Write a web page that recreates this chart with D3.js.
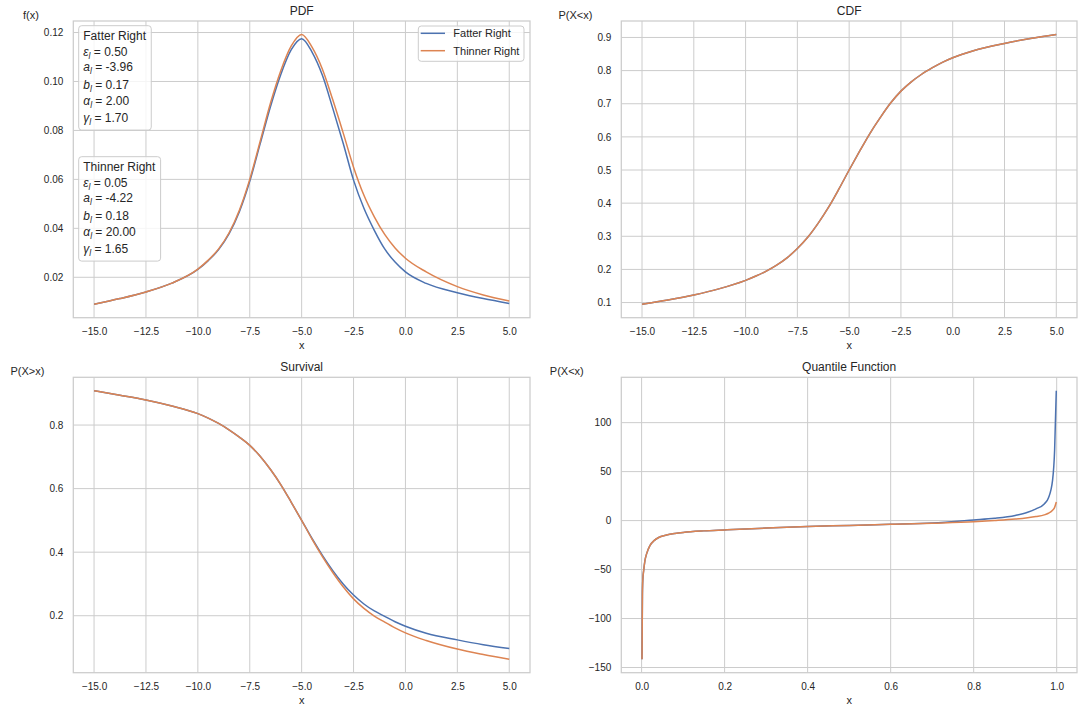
<!DOCTYPE html>
<html>
<head>
<meta charset="utf-8">
<script src="https://cdn.jsdelivr.net/npm/d3@7"></script>
<style>
    body { margin: 0; background: #ffffff; }
    svg { font-family: "Liberation Sans", Arial, sans-serif; }
</style>
</head>
<body>
<script>

//series names and colours
var seriesNames = ["Fatter Right", "Thinner Right"];
var seriesColors = ["#4c72b0", "#dd8452"];

//PDF values
var pdfX = [-15, -13.75, -12.5, -11.25, -10, -9.5, -9, -8.5, -8, -7.5, -7, -6.5, -6, -5.5, -5,
            -4.5, -4, -3.5, -3, -2.5, -2, -1.5, -1, -0.5, 0, 1, 2.5, 3.75, 5];
var pdfFatter = [0.0090, 0.0113, 0.0140, 0.0176, 0.0232, 0.0268, 0.0313, 0.0377, 0.0468, 0.0592,
                 0.0745, 0.0898, 0.1030, 0.1130, 0.1175, 0.1120, 0.1025, 0.0890, 0.0748, 0.0597,
                 0.0482, 0.0392, 0.0316, 0.0262, 0.0222, 0.0175, 0.0137, 0.0113, 0.0093];
var pdfThinner = [0.0090, 0.0113, 0.0140, 0.0176, 0.0233, 0.0270, 0.0316, 0.0381, 0.0474, 0.0600,
                  0.0755, 0.0912, 0.1045, 0.1145, 0.1192, 0.1140, 0.1050, 0.0925, 0.0790, 0.0650,
                  0.0535, 0.0447, 0.0375, 0.0320, 0.0278, 0.0222, 0.0162, 0.0128, 0.0103];

//CDF values
var cdfX = [-15, -13.75, -12.5, -11.25, -10, -9.5, -9, -8.5, -8, -7.5, -7, -6.5, -6, -5.5, -5,
            -4.5, -4, -3.5, -3, -2.5, -2, -1.5, -1, -0.5, 0, 1, 2.5, 3.75, 5];
var cdfFatter = [0.095, 0.108, 0.123, 0.142, 0.167, 0.180, 0.195, 0.213, 0.235, 0.263, 0.297, 0.339, 0.387, 0.442, 0.500,
                 0.556, 0.610, 0.658, 0.702, 0.738, 0.766, 0.789, 0.808, 0.825, 0.839, 0.860, 0.882, 0.897, 0.909];
var cdfThinner = [0.095, 0.108, 0.123, 0.142, 0.167, 0.180, 0.195, 0.213, 0.235, 0.263, 0.297, 0.339, 0.387, 0.442, 0.500,
                  0.556, 0.610, 0.658, 0.702, 0.738, 0.766, 0.789, 0.808, 0.825, 0.839, 0.860, 0.882, 0.897, 0.909];

//survival values
var survX = [-15, -13.75, -12.5, -11.25, -10, -9.5, -9, -8.5, -8, -7.5, -7, -6.5, -6, -5.5, -5,
             -4.5, -4, -3.5, -3, -2.5, -2, -1.5, -1, -0.5, 0, 1, 2.5, 3.75, 5];
var survFatter = [0.908, 0.894, 0.879, 0.860, 0.836, 0.822, 0.805, 0.785, 0.762, 0.736, 0.702, 0.660, 0.612, 0.557, 0.500,
                  0.443, 0.390, 0.342, 0.300, 0.265, 0.237, 0.215, 0.198, 0.181, 0.167, 0.145, 0.124, 0.109, 0.097];
var survThinner = [0.908, 0.894, 0.879, 0.860, 0.836, 0.822, 0.805, 0.785, 0.762, 0.736, 0.702, 0.660, 0.612, 0.557, 0.500,
                   0.441, 0.386, 0.336, 0.291, 0.253, 0.223, 0.199, 0.180, 0.162, 0.146, 0.122, 0.095, 0.078, 0.063];

//quantile function values
var qP = [0.001, 0.002, 0.003, 0.005, 0.008, 0.012, 0.02, 0.03, 0.04, 0.06, 0.08, 0.1, 0.15, 0.2,
          0.3, 0.4, 0.5, 0.6, 0.7, 0.8, 0.85, 0.9, 0.93, 0.95, 0.97, 0.98, 0.99, 0.995, 0.999];
var qFatter = [-141.6, -75, -60, -51, -41, -34, -25.5, -20.5, -17.5, -14.8, -13.2, -12.1, -10.5, -9.5,
               -7.6, -6.0, -4.9, -3.8, -2.4, 0.7, 2.4, 5.3, 8.5, 12, 17, 23, 41, 72, 132.6];
var qThinner = [-141.6, -75, -60, -51, -41, -34, -25.5, -20.5, -17.5, -14.8, -13.2, -12.1, -10.5, -9.5,
                -7.6, -6.0, -4.9, -3.8, -2.7, -1.3, 0.0, 1.6, 3.0, 4.2, 5.8, 7.5, 10.5, 13.5, 19.0];

//tick labels
var xTicks = [-15, -12.5, -10, -7.5, -5, -2.5, 0, 2.5, 5];
var pdfTicks = [0.02, 0.04, 0.06, 0.08, 0.10, 0.12];
var cdfTicks = [0.1, 0.2, 0.3, 0.4, 0.5, 0.6, 0.7, 0.8, 0.9];
var survTicks = [0.2, 0.4, 0.6, 0.8];
var qXTicks = [0.0, 0.2, 0.4, 0.6, 0.8, 1.0];
var qYTicks = [-150, -100, -50, 0, 50, 100];

//annotation boxes
var paramSymbols = ["ε", "a", "b", "α", "γ"];
var fatterParams = ["0.50", "-3.96", "0.17", "2.00", "1.70"];
var thinnerParams = ["0.05", "-4.22", "0.18", "20.00", "1.65"];

window.onload = setChart;

function setChart(){

    var width = 1084,
        height = 714;

    var svg = d3.select("body")
        .append("svg")
        .attr("width", width)
        .attr("height", height);

    var panels = [
        {left: 73.3, top: 21, w: 456.7, h: 296.7, title: "PDF", ylabel: "f(x)",
         xs: pdfX, ys: [pdfFatter, pdfThinner], xTicks: xTicks, yTicks: pdfTicks, xFmt: ".1f", yFmt: ".2f"},
        {left: 621.3, top: 21, w: 455.7, h: 296.7, title: "CDF", ylabel: "P(X<x)",
         xs: cdfX, ys: [cdfFatter, cdfThinner], xTicks: xTicks, yTicks: cdfTicks, xFmt: ".1f", yFmt: ".1f"},
        {left: 73.3, top: 377.3, w: 456.7, h: 295.4, title: "Survival", ylabel: "P(X>x)",
         xs: survX, ys: [survFatter, survThinner], xTicks: xTicks, yTicks: survTicks, xFmt: ".1f", yFmt: ".1f"},
        {left: 621.3, top: 377.3, w: 455.7, h: 295.4, title: "Quantile Function", ylabel: "P(X<x)",
         xs: qP, ys: [qFatter, qThinner], xTicks: qXTicks, yTicks: qYTicks, xFmt: ".1f", yFmt: "d"}
    ];

    var pdfG = null;
    panels.forEach(function(p, i){
        var g = drawPanel(svg, p);
        if (i == 0) pdfG = g;
    });

    //legend on the PDF panel
    var legend = pdfG.append("g")
        .attr("transform", "translate(" + (panels[0].w - 6 - 105.7) + ",5)");
    legend.append("rect")
        .attr("width", 105.7)
        .attr("height", 35.3)
        .attr("rx", 3)
        .attr("fill", "#ffffff")
        .attr("fill-opacity", 0.8)
        .attr("stroke", "#cccccc")
        .attr("stroke-width", 1);
    seriesNames.forEach(function(name, i){
        legend.append("line")
            .attr("x1", 2.4).attr("x2", 26.7)
            .attr("y1", 7.3 + i * 17.4).attr("y2", 7.3 + i * 17.4)
            .attr("stroke", seriesColors[i])
            .attr("stroke-width", 1.5);
        legend.append("text")
            .attr("x", 35)
            .attr("y", 11.3 + i * 17.4)
            .attr("font-size", 11)
            .attr("fill", "#262626")
            .text(name);
    });

    //parameter boxes
    addParamBox(pdfG, 5.4, 4.7, seriesNames[0], fatterParams);
    addParamBox(pdfG, 5.4, 135.7, seriesNames[1], thinnerParams);
}

function drawPanel(svg, p){
    var g = svg.append("g")
        .attr("transform", "translate(" + p.left + "," + p.top + ")");

    //matplotlib style 5% margins
    var xExt = d3.extent(p.xs),
        xPad = (xExt[1] - xExt[0]) * 0.05;
    var yExt = d3.extent(p.ys[0].concat(p.ys[1])),
        yPad = (yExt[1] - yExt[0]) * 0.05;

    var x = d3.scaleLinear()
        .domain([xExt[0] - xPad, xExt[1] + xPad])
        .range([0, p.w]);
    var y = d3.scaleLinear()
        .domain([yExt[0] - yPad, yExt[1] + yPad])
        .range([p.h, 0]);

    //grid
    g.selectAll(".vgrid")
        .data(p.xTicks)
        .enter()
        .append("line")
        .attr("x1", function(d){ return x(d); })
        .attr("x2", function(d){ return x(d); })
        .attr("y1", 0).attr("y2", p.h)
        .attr("stroke", "#cccccc")
        .attr("stroke-width", 1);
    g.selectAll(".hgrid")
        .data(p.yTicks)
        .enter()
        .append("line")
        .attr("y1", function(d){ return y(d); })
        .attr("y2", function(d){ return y(d); })
        .attr("x1", 0).attr("x2", p.w)
        .attr("stroke", "#cccccc")
        .attr("stroke-width", 1);

    //curves
    p.ys.forEach(function(vals, k){
        var line = d3.line()
            .x(function(d, i){ return x(p.xs[i]); })
            .y(function(d){ return y(d); })
            .curve(d3.curveMonotoneX);
        g.append("path")
            .datum(vals)
            .attr("d", line)
            .attr("fill", "none")
            .attr("stroke", seriesColors[k])
            .attr("stroke-width", 1.5);
    });

    //frame
    g.append("rect")
        .attr("width", p.w)
        .attr("height", p.h)
        .attr("fill", "none")
        .attr("stroke", "#cccccc")
        .attr("stroke-width", 1.25);

    //axes
    var xAxis = g.append("g")
        .attr("transform", "translate(0," + p.h + ")")
        .call(d3.axisBottom(x)
            .tickValues(p.xTicks)
            .tickFormat(d3.format(p.xFmt))
            .tickSize(0)
            .tickPadding(10));
    var yAxis = g.append("g")
        .call(d3.axisLeft(y)
            .tickValues(p.yTicks)
            .tickFormat(d3.format(p.yFmt))
            .tickSize(0)
            .tickPadding(10));
    [xAxis, yAxis].forEach(function(a){
        a.select(".domain").remove();
        a.selectAll("text")
            .attr("font-size", 10)
            .attr("font-family", "Liberation Sans, Arial, sans-serif")
            .attr("fill", "#262626");
    });

    //title and labels
    g.append("text")
        .attr("x", p.w / 2)
        .attr("y", -6)
        .attr("text-anchor", "middle")
        .attr("font-size", 12)
        .attr("fill", "#262626")
        .text(p.title);
    g.append("text")
        .attr("x", p.w / 2)
        .attr("y", p.h + 31)
        .attr("text-anchor", "middle")
        .attr("font-size", 11)
        .attr("fill", "#262626")
        .text("x");

    var bb = yAxis.node().getBBox();
    g.append("text")
        .attr("x", bb.x - 5)
        .attr("y", -2.5)
        .attr("text-anchor", "end")
        .attr("font-size", 11)
        .attr("fill", "#262626")
        .text(p.ylabel);

    return g;
}

function addParamBox(g, bx, by, name, values){
    var box = g.append("g")
        .attr("transform", "translate(" + bx + "," + by + ")");
    var rect = box.append("rect")
        .attr("rx", 3)
        .attr("fill", "#ffffff")
        .attr("fill-opacity", 0.8)
        .attr("stroke", "#cccccc")
        .attr("stroke-width", 1);

    var baselines = [14.5, 30, 45.5, 63, 79.5, 96];
    var maxW = 0;

    var t0 = box.append("text")
        .attr("x", 4.6)
        .attr("y", baselines[0])
        .attr("font-size", 12)
        .attr("fill", "#262626")
        .text(name);
    maxW = Math.max(maxW, t0.node().getBBox().width);

    paramSymbols.forEach(function(sym, i){
        var t = box.append("text")
            .attr("x", 4.6)
            .attr("y", baselines[i + 1])
            .attr("font-size", 12)
            .attr("fill", "#262626");
        t.append("tspan")
            .attr("font-style", "italic")
            .text(sym);
        t.append("tspan")
            .attr("font-style", "italic")
            .attr("font-size", 8.5)
            .attr("dy", 3)
            .text("l");
        t.append("tspan")
            .attr("dy", -3)
            .text(" = " + values[i]);
        maxW = Math.max(maxW, t.node().getBBox().width);
    });

    rect.attr("width", maxW + 9.2)
        .attr("height", 104.4);
}

</script>
</body>
</html>
